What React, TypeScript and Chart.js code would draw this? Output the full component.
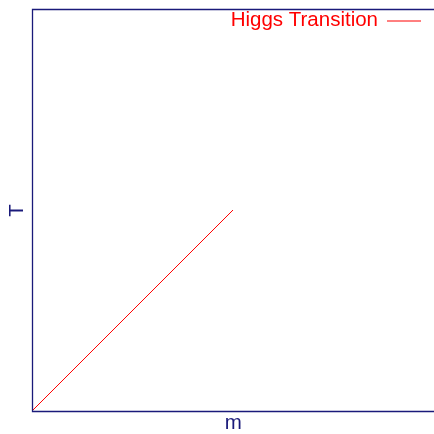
import React, { useEffect, useRef } from "react";
import { Chart, registerables } from "chart.js";

Chart.register(...registerables);

// Mass (x) and temperature (y) along the transition line, normalised to [0, 1]
const massValues = [0, 0.5];
const tempValues = [0, 0.5];
const seriesLabel = "Higgs Transition";
const xTitle = "m";
const yTitle = "T";

const AXIS_COLOR = "#1a1a7a";
const LINE_COLOR = "#ff0000";
const FONT = '20.5px "Liberation Sans", Arial, sans-serif';

const framePlugin = {
  id: "frameAndLabels",
  afterDraw(chart: any) {
    const { ctx, chartArea } = chart;
    const left = Math.round(chartArea.left) + 0.5;
    const top = Math.round(chartArea.top) + 0.5;
    const bottom = Math.round(chartArea.bottom) + 0.5;
    const right = chartArea.right;
    ctx.save();
    // left, top and bottom frame lines
    ctx.strokeStyle = AXIS_COLOR;
    ctx.lineWidth = 1.3;
    ctx.beginPath();
    ctx.moveTo(right, top);
    ctx.lineTo(left, top);
    ctx.lineTo(left, bottom);
    ctx.lineTo(right, bottom);
    ctx.stroke();

    // axis titles
    ctx.fillStyle = AXIS_COLOR;
    ctx.font = FONT;
    ctx.textAlign = "center";
    ctx.textBaseline = "middle";
    ctx.fillText(xTitle, (left + right) / 2, bottom + 12);
    ctx.save();
    ctx.translate(left - 15, (top + bottom) / 2);
    ctx.rotate(-Math.PI / 2);
    ctx.fillText(yTitle, 0, 0);
    ctx.restore();

    // legend: label followed by a line sample
    const ds = chart.data.datasets[0];
    ctx.font = FONT;
    ctx.textAlign = "right";
    ctx.textBaseline = "alphabetic";
    ctx.fillStyle = LINE_COLOR;
    const sampleLeft = right - 47;
    ctx.fillText(ds.label, sampleLeft - 9, top + 16);
    ctx.strokeStyle = LINE_COLOR;
    ctx.lineWidth = 1;
    ctx.beginPath();
    ctx.moveTo(sampleLeft, top + 11.5);
    ctx.lineTo(sampleLeft + 34, top + 11.5);
    ctx.stroke();
    ctx.restore();
  },
};

export default function App() {
  const canvasRef = useRef<HTMLCanvasElement | null>(null);

  useEffect(() => {
    document.body.style.margin = "0";
    const canvas = canvasRef.current;
    if (!canvas) return;
    const chart = new Chart(canvas, {
      type: "scatter",
      data: {
        datasets: [
          {
            label: seriesLabel,
            data: massValues.map((m, i) => ({ x: m, y: tempValues[i] })),
            showLine: true,
            borderColor: LINE_COLOR,
            borderWidth: 1,
            pointRadius: 0,
            fill: false,
          },
        ],
      },
      options: {
        animation: false,
        responsive: true,
        maintainAspectRatio: false,
        devicePixelRatio: 1,
        layout: { padding: { left: 32, top: 9, right: 0, bottom: 23 } },
        plugins: {
          legend: { display: false },
          tooltip: { enabled: false },
        },
        scales: {
          x: { type: "linear", min: 0, max: 1, display: false },
          y: { type: "linear", min: 0, max: 1, display: false },
        },
      },
      plugins: [framePlugin],
    });
    return () => chart.destroy();
  }, []);

  return (
    <div style={{ position: "relative", width: 434, height: 434 }}>
      <canvas ref={canvasRef} />
    </div>
  );
}
